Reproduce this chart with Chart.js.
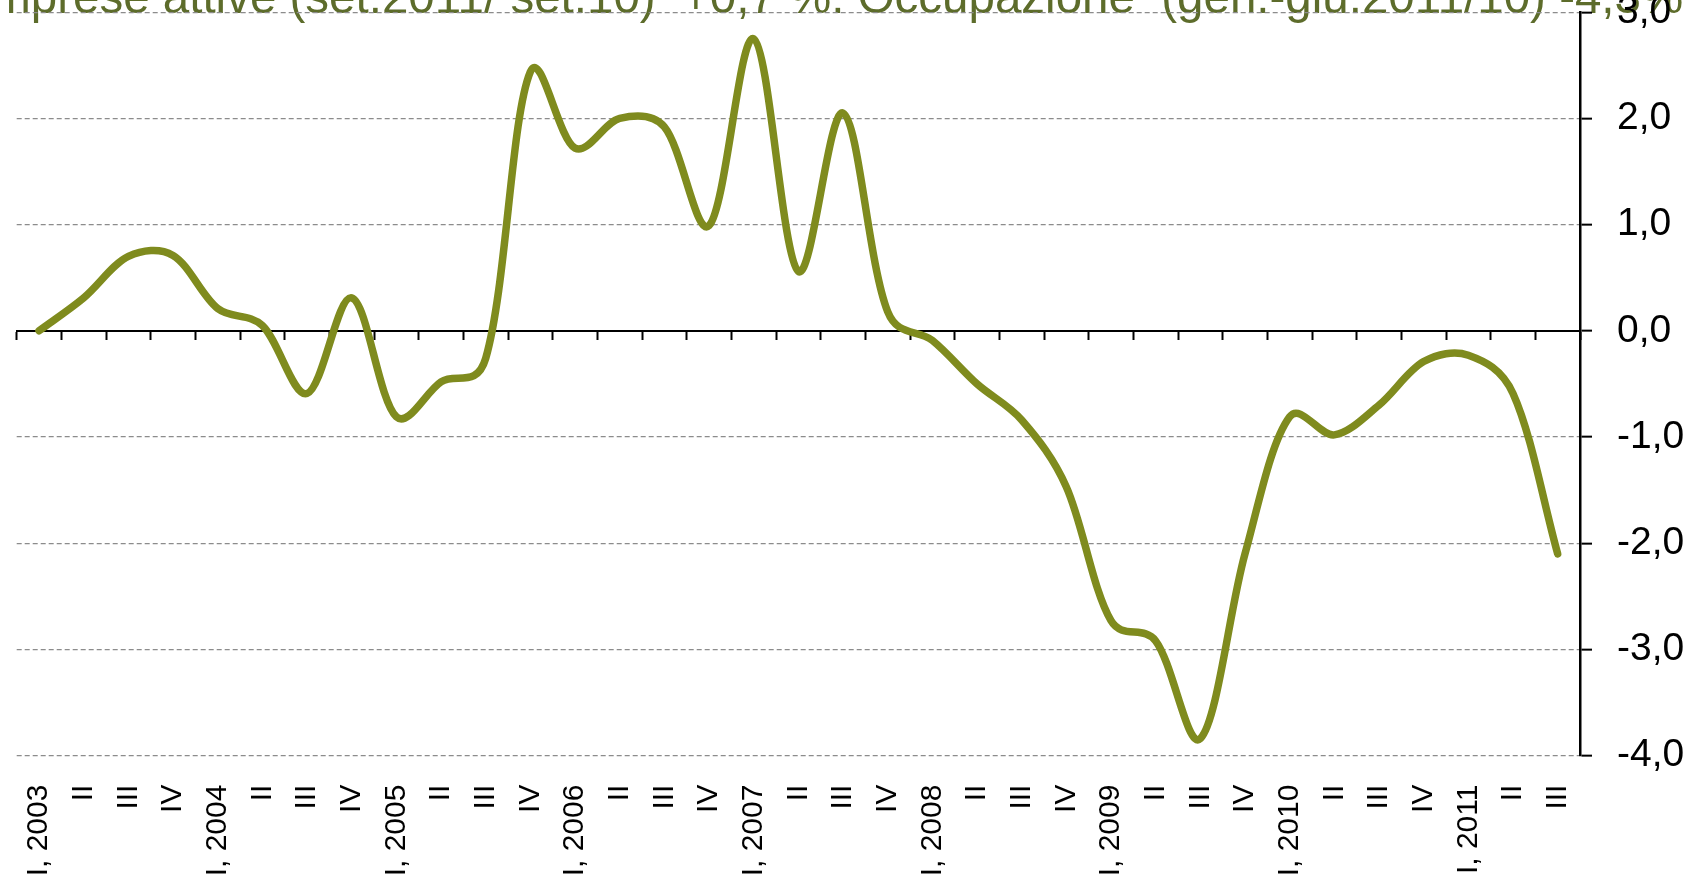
<!DOCTYPE html>
<html>
<head>
<meta charset="utf-8">
<script src="https://cdn.jsdelivr.net/npm/chart.js@4.4.0/dist/chart.umd.min.js"></script>
<style>
  html, body { margin: 0; padding: 0; background: #fff; overflow: hidden; }
  #wrap { position: relative; width: 1698px; height: 880px; }
</style>
</head>
<body>
<div id="wrap"><canvas id="grafico"></canvas></div>
<script>
// titolo (tagliato in alto come nell'originale)
const titolo = "Imprese attive (set.2011/ set.10)  +0,7 %. Occupazione  (gen.-giu.2011/10) -4,3%";

// trimestri
const trimestri = [
    "I, 2003", "II", "III", "IV",
    "I, 2004", "II", "III", "IV",
    "I, 2005", "II", "III", "IV",
    "I, 2006", "II", "III", "IV",
    "I, 2007", "II", "III", "IV",
    "I, 2008", "II", "III", "IV",
    "I, 2009", "II", "III", "IV",
    "I, 2010", "II", "III", "IV",
    "I, 2011", "II", "III"
];

// variazioni %
const variazioni = [
    0.00, 0.31, 0.70, 0.71,
    0.21, 0.05, -0.59, 0.31,
    -0.81, -0.48, -0.26, 2.44,
    1.72, 2.00, 1.92, 0.99,
    2.75, 0.56, 2.05, 0.18,
    -0.09, -0.50, -0.84, -1.47,
    -2.73, -2.92, -3.84, -2.10,
    -0.81, -0.98, -0.70, -0.29,
    -0.23, -0.59, -2.10
];

const yMin = -4;
const yMax = 3;

const FONT = '"Liberation Sans", Arial, sans-serif';

// =================== TITOLO ===================

const titoloPlugin = {
    id: "titolo",
    beforeDraw(chart){
        const ctx = chart.ctx;
        ctx.save();
        ctx.font = "47.5px " + FONT;
        ctx.fillStyle = "#5d6c2b";
        ctx.textBaseline = "alphabetic";
        ctx.textAlign = "left";
        ctx.fillText(titolo, -22, 13);
        ctx.restore();
    }
};

// =================== LINEA SMUSSATA ===================
// punti di controllo stile Excel, calcolati dalle posizioni
// dei punti date dalle scale (peso sulla radice delle distanze)
const smussaPlugin = {
    id: "smussa",
    beforeDatasetDraw(chart, args){
        const meta = args.meta;
        const linea = meta.dataset;
        const pts = meta.data;
        const t = 1 / 3;
        linea.updateControlPoints(chart.chartArea, "x");
        for(let i = 0; i < pts.length; i++){
            const p = pts[i];
            const prec = pts[Math.max(i - 1, 0)];
            const succ = pts[Math.min(i + 1, pts.length - 1)];
            const d01 = Math.sqrt(Math.hypot(p.x - prec.x, p.y - prec.y));
            const d12 = Math.sqrt(Math.hypot(succ.x - p.x, succ.y - p.y));
            const tot = d01 + d12 || 1;
            const fa = t * d01 / tot;
            const fb = t * d12 / tot;
            p.cp1x = p.x - fa * (succ.x - prec.x);
            p.cp1y = p.y - fa * (succ.y - prec.y);
            p.cp2x = p.x + fb * (succ.x - prec.x);
            p.cp2y = p.y + fb * (succ.y - prec.y);
        }
        delete linea._path;
    }
};

// =================== GRAFICO ===================

const grafico = new Chart(document.getElementById("grafico"), {
    type: "line",
    data: {
        labels: trimestri,
        datasets: [{
            data: variazioni,
            borderColor: "#7f8b1e",
            borderWidth: 7.5,
            borderCapStyle: "round",
            borderJoinStyle: "round",
            tension: 0.35,
            pointRadius: 0,
            fill: false
        }]
    },
    options: {
        responsive: true,
        maintainAspectRatio: false,
        animation: false,
        layout: {
            padding: { left: 16.7, right: 0, top: 12.2, bottom: 0 }
        },
        plugins: {
            legend: { display: false },
            tooltip: { enabled: false }
        },
        scales: {
            x: {
                type: "category",
                position: "bottom",
                offset: true,
                grid: { display: false, drawTicks: false },
                border: { display: false },
                ticks: {
                    autoSkip: false,
                    maxRotation: 90,
                    minRotation: 90,
                    padding: 29,
                    color: "#000",
                    font: { family: FONT, size: 30 }
                },
                afterFit(scale){
                    scale.height = 124.4;
                    scale.paddingLeft = 0;
                    scale.paddingRight = 0;
                }
            },
            asseZero: {
                type: "category",
                axis: "x",
                position: { y: 0 },
                offset: true,
                grid: {
                    offset: true,
                    drawOnChartArea: false,
                    tickLength: 8,
                    tickWidth: 2,
                    tickColor: "#000"
                },
                border: { color: "#000", width: 2 },
                ticks: { display: false }
            },
            y: {
                position: "right",
                min: yMin,
                max: yMax,
                grid: {
                    color: (c) => c.tick && c.tick.value === 0 ? "rgba(0,0,0,0)" : "#8c8c8c",
                    lineWidth: 1.3,
                    tickColor: "#000",
                    tickLength: 12,
                    tickWidth: 2
                },
                border: { color: "#000", width: 2.5, dash: [5, 3] },
                ticks: {
                    stepSize: 1,
                    padding: 25,
                    color: "#000",
                    font: { family: FONT, size: 39 },
                    callback: (v) => v.toFixed(1).replace(".", ",")
                },
                afterFit(scale){
                    scale.width = 118;
                    scale.paddingTop = 0;
                    scale.paddingBottom = 0;
                }
            }
        }
    },
    plugins: [titoloPlugin, smussaPlugin]
});
</script>
</body>
</html>
